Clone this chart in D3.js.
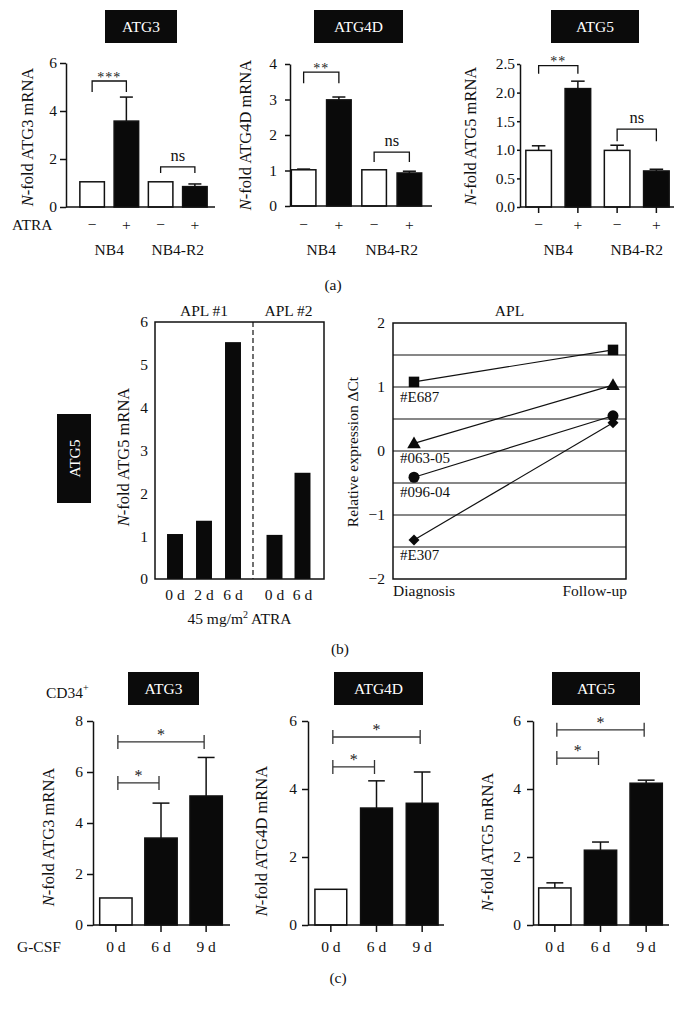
<!DOCTYPE html>
<html><head><meta charset="utf-8">
<script src="https://cdn.jsdelivr.net/npm/d3@7"></script>
<style>
body{margin:0;background:#fff}
svg{display:block;font-family:"Liberation Serif","Times New Roman",serif}
</style></head><body>
<svg id="fig" width="686" height="1012"></svg>
<script>
// ================= DATA =================
// Panel (a): NB4 / NB4-R2 cells, -/+ ATRA
const aCategories = ["NB4 −", "NB4 +", "NB4-R2 −", "NB4-R2 +"];
const aAtraSigns = ["−", "+", "−", "+"];
const aCellLines = ["NB4", "NB4-R2"];
const aFills = ["white", "black", "white", "black"];
const aATG3Values = [1.05, 3.58, 1.05, 0.85];
const aATG3Errors = [0, 1.0, 0, 0.11];
const aATG4DValues = [1.02, 2.99, 1.02, 0.93];
const aATG4DErrors = [0.02, 0.08, 0, 0.05];
const aATG5Values = [0.99, 2.07, 0.99, 0.63];
const aATG5Errors = [0.08, 0.13, 0.09, 0.03];
const aATG3Ticks = [0, 2, 4, 6];
const aATG4DTicks = [0, 1, 2, 3, 4];
const aATG5Ticks = [0, 0.5, 1.0, 1.5, 2.0, 2.5];
const aATG3Sig = [{from: 0, to: 1, top: 5.25, leg: 4.79, label: "***"}, {from: 2, to: 3, top: 1.67, leg: 1.42, label: "ns"}];
const aATG4DSig = [{from: 0, to: 1, top: 3.77, leg: 3.46, label: "**"}, {from: 2, to: 3, top: 1.52, leg: 1.24, label: "ns"}];
const aATG5Sig = [{from: 0, to: 1, top: 2.47, leg: 2.33, label: "**"}, {from: 2, to: 3, top: 1.36, leg: 1.15, label: "ns"}];

// Panel (b) left: APL patients, ATG5 during ATRA therapy
const bAPL1Days = ["0 d", "2 d", "6 d"];
const bAPL1Values = [1.05, 1.36, 5.53];
const bAPL2Days = ["0 d", "6 d"];
const bAPL2Values = [1.03, 2.48];
const bLeftTicks = [0, 1, 2, 3, 4, 5, 6];
// Panel (b) right: relative expression ΔCt
const bTimepoints = ["Diagnosis", "Follow-up"];
const bPatients = ["#E687", "#063-05", "#096-04", "#E307"];
const bPatientSymbols = ["square", "triangle", "circle", "diamond"];
const bDiagnosis = [1.08, 0.12, -0.41, -1.39];
const bFollowUp = [1.58, 1.03, 0.55, 0.44];
const bRightTicks = [-2, -1, 0, 1, 2];
const bRightGrid = [-1.5, -1, -0.5, 0, 0.5, 1, 1.5];

// Panel (c): CD34+ cells, G-CSF
const cDays = ["0 d", "6 d", "9 d"];
const cFills = ["white", "black", "black"];
const cATG3Values = [1.06, 3.41, 5.06];
const cATG3Errors = [0, 1.37, 1.51];
const cATG4DValues = [1.05, 3.44, 3.58];
const cATG4DErrors = [0, 0.80, 0.92];
const cATG5Values = [1.09, 2.20, 4.17];
const cATG5Errors = [0.15, 0.24, 0.09];
const cATG3Ticks = [0, 2, 4, 6, 8];
const cATG4DTicks = [0, 2, 4, 6];
const cATG5Ticks = [0, 2, 4, 6];
const cATG3Sig = [{from: 0, to: 2, y: 7.18, label: "*"}, {from: 0, to: 1, y: 5.57, label: "*"}];
const cATG4DSig = [{from: 0, to: 2, y: 5.53, label: "*"}, {from: 0, to: 1, y: 4.65, label: "*"}];
const cATG5Sig = [{from: 0, to: 2, y: 5.74, label: "*"}, {from: 0, to: 1, y: 4.91, label: "*"}];

// ================= DRAWING =================
const FONT = '"Liberation Serif","Times New Roman",serif';
const INK = "#111";
const svg = d3.select("#fig");

function txt(x, y, s, size, anchor) {
  return svg.append("text").attr("x", x).attr("y", y).attr("font-size", size || 15.5)
    .attr("text-anchor", anchor || "middle").attr("fill", INK).text(s);
}

function titleBox(x, y, w, h, s, vertical) {
  svg.append("rect").attr("x", x).attr("y", y).attr("width", w).attr("height", h).attr("fill", "#0b0b0b");
  const t = svg.append("text").attr("fill", "#fff").attr("font-size", 15.5).attr("text-anchor", "middle");
  if (vertical) t.attr("transform", `translate(${x + w / 2 + 5.5},${y + h / 2}) rotate(-90)`);
  else t.attr("x", x + w / 2).attr("y", y + h / 2 + 5.5);
  t.text(s);
}

function yLabel(x, y, gene, size) {
  const t = svg.append("text").attr("transform", `translate(${x},${y}) rotate(-90)`)
    .attr("text-anchor", "middle").attr("font-size", size || 16.5).attr("fill", INK);
  t.append("tspan").attr("font-style", "italic").text("N");
  t.append("tspan").text(`-fold ${gene} mRNA`);
}

function styleAxis(sel, size) {
  sel.attr("font-family", FONT).attr("font-size", size || 15.5).attr("color", INK);
  sel.selectAll("path,line").attr("stroke-width", 1.5);
}

function barChart(cfg) {
  const g = svg.append("g");
  const x = d3.scaleBand().domain(cfg.categories).range(cfg.band)
    .paddingInner(cfg.pi).paddingOuter(cfg.pi / 2);
  const y = d3.scaleLinear().domain(cfg.domain).range(cfg.yRange);
  const bw = x.bandwidth();
  const cx = i => x(cfg.categories[i]) + bw / 2;

  // error bars (upward only)
  cfg.values.forEach((v, i) => {
    const e = cfg.errors[i];
    if (!e) return;
    g.append("line").attr("x1", cx(i)).attr("x2", cx(i)).attr("y1", y(v)).attr("y2", y(v + e))
      .attr("stroke", INK).attr("stroke-width", 1.5);
    g.append("line").attr("x1", cx(i) - bw * 0.25).attr("x2", cx(i) + bw * 0.25)
      .attr("y1", y(v + e)).attr("y2", y(v + e)).attr("stroke", INK).attr("stroke-width", 1.5);
  });
  // bars
  g.selectAll("rect.bar").data(cfg.values).join("rect").attr("class", "bar")
    .attr("x", (d, i) => x(cfg.categories[i]) + 0.75).attr("width", bw - 1.5)
    .attr("y", d => y(d)).attr("height", d => y(0) - y(d))
    .attr("fill", (d, i) => cfg.fills[i] === "black" ? "#0a0a0a" : "#fff")
    .attr("stroke", INK).attr("stroke-width", 1.5);
  // y axis
  const ya = d3.axisLeft(y).tickValues(cfg.ticks).tickSize(cfg.tickSize).tickPadding(cfg.tickPad)
    .tickSizeOuter(0).tickFormat(cfg.fmt || d3.format("d"));
  const ag = g.append("g").attr("transform", `translate(${cfg.axisX},0)`).call(ya);
  styleAxis(ag);
  // x axis line
  g.append("line").attr("x1", cfg.axisX).attr("x2", cfg.xEnd).attr("y1", y(0)).attr("y2", y(0))
    .attr("stroke", INK).attr("stroke-width", 1.5);
  if (cfg.xTicks) {
    cfg.categories.forEach((c, i) => g.append("line").attr("x1", cx(i)).attr("x2", cx(i))
      .attr("y1", y(0)).attr("y2", y(0) + cfg.xTicks).attr("stroke", INK).attr("stroke-width", 1.5));
  }
  return {x, y, cx};
}

function legBrackets(ch, sig) {
  sig.forEach(s => {
    const x1 = ch.cx(s.from), x2 = ch.cx(s.to);
    svg.append("path").attr("d", `M${x1},${ch.y(s.leg)}V${ch.y(s.top)}H${x2}V${ch.y(s.leg)}`)
      .attr("fill", "none").attr("stroke", INK).attr("stroke-width", 1.3);
    if (s.label === "ns") txt((x1 + x2) / 2, ch.y(s.top) - 6, "ns", 16.5);
    else txt((x1 + x2) / 2, ch.y(s.top) + 0.5, s.label, 14).attr("fill", "#222").attr("letter-spacing", 1);
  });
}

function capBrackets(ch, sig) {
  sig.forEach(s => {
    const x1 = ch.cx(s.from) + 2, x2 = ch.cx(s.to) - 2, yy = ch.y(s.y);
    svg.append("path").attr("d", `M${x1},${yy - 7}V${yy + 7}M${x1},${yy}H${x2}M${x2},${yy - 7}V${yy + 7}`)
      .attr("fill", "none").attr("stroke", "#333").attr("stroke-width", 1.3);
    txt((x1 + x2) / 2, yy - 2, s.label, 16).attr("fill", "#222");
  });
}

// ---------- Panel (a) ----------
titleBox(105, 10, 72, 33, "ATG3");
titleBox(314, 10, 89, 33, "ATG4D");
titleBox(551, 10, 88, 33, "ATG5");

const a1 = barChart({categories: aCategories, values: aATG3Values, errors: aATG3Errors, fills: aFills,
  band: [75, 212], pi: 0.24, domain: [0, 6], yRange: [207, 63], ticks: aATG3Ticks,
  axisX: 66, xEnd: 215, tickSize: 6, tickPad: 3});
const a2 = barChart({categories: aCategories, values: aATG4DValues, errors: aATG4DErrors, fills: aFills,
  band: [286, 427], pi: 0.26, domain: [0, 4], yRange: [206, 64], ticks: aATG4DTicks,
  axisX: 290, xEnd: 432, tickSize: 5, tickPad: 8});
const a3 = barChart({categories: aCategories, values: aATG5Values, errors: aATG5Errors, fills: aFills,
  band: [519, 676], pi: 0.31, domain: [0, 2.5], yRange: [207, 64], ticks: aATG5Ticks,
  fmt: d3.format(".1f"), axisX: 520, xEnd: 674, tickSize: 3, tickPad: 2, xTicks: 6});
legBrackets(a1, aATG3Sig);
legBrackets(a2, aATG4DSig);
legBrackets(a3, aATG5Sig);

yLabel(33, 137, "ATG3");
yLabel(251, 135, "ATG4D");
yLabel(476, 136, "ATG5");

txt(12, 230, "ATRA", 15.5, "start");
[a1, a2, a3].forEach(ch => {
  aAtraSigns.forEach((s, i) => txt(ch.cx(i), 230, s, 15.5));
  aCellLines.forEach((c, k) => txt((ch.cx(2 * k) + ch.cx(2 * k + 1)) / 2, 255, c, 15.5));
});
txt(333, 290, "(a)", 15.5);

// ---------- Panel (b) left ----------
titleBox(57, 414, 34, 89, "ATG5", true);
const bL = {x0: 155, x1: 324, split: 253, top: 322, bottom: 579};
const byL = d3.scaleLinear().domain([0, 6]).range([bL.bottom, bL.top]);
const bx1 = d3.scaleBand().domain(d3.range(bAPL1Days.length)).range([bL.x0, bL.split]).paddingInner(0.45).paddingOuter(0.415);
const bx2 = d3.scaleBand().domain(d3.range(bAPL2Days.length)).range([bL.split, bL.x1]).paddingInner(0.43).paddingOuter(0.483);
[[bx1, bAPL1Values, bAPL1Days], [bx2, bAPL2Values, bAPL2Days]].forEach(([sc, vals, days]) => {
  svg.append("g").selectAll("rect").data(vals).join("rect")
    .attr("x", (d, i) => sc(i)).attr("width", sc.bandwidth())
    .attr("y", d => byL(d)).attr("height", d => byL(0) - byL(d)).attr("fill", "#0a0a0a");
  days.forEach((dd, i) => txt(sc(i) + sc.bandwidth() / 2, 600, dd, 15.5));
});
svg.append("rect").attr("x", bL.x0).attr("y", bL.top).attr("width", bL.x1 - bL.x0).attr("height", bL.bottom - bL.top)
  .attr("fill", "none").attr("stroke", INK).attr("stroke-width", 1.5);
svg.append("line").attr("x1", bL.split).attr("x2", bL.split).attr("y1", bL.top).attr("y2", bL.bottom)
  .attr("stroke", INK).attr("stroke-width", 1.2).attr("stroke-dasharray", "5,3");
const bLAxis = svg.append("g").attr("transform", `translate(${bL.x0},0)`)
  .call(d3.axisLeft(byL).tickValues(bLeftTicks).tickSize(0).tickPadding(7).tickFormat(d3.format("d")));
styleAxis(bLAxis);
bLAxis.select(".domain").remove();
txt((bL.x0 + bL.split) / 2, 316, "APL #1", 15.5);
txt((bL.split + bL.x1) / 2, 316, "APL #2", 15.5);
const lbl45 = svg.append("text").attr("x", (bL.x0 + bL.x1) / 2).attr("y", 624).attr("font-size", 15.5)
  .attr("text-anchor", "middle").attr("fill", INK);
lbl45.append("tspan").text("45 mg/m");
lbl45.append("tspan").attr("font-size", 10).attr("dy", -6).text("2");
lbl45.append("tspan").attr("dy", 6).text(" ATRA");
yLabel(129, 457, "ATG5");

// ---------- Panel (b) right ----------
const bR = {x0: 393, x1: 626, top: 323, bottom: 579};
const byR = d3.scaleLinear().domain([-2, 2]).range([bR.bottom, bR.top]);
const bxR = d3.scalePoint().domain(bTimepoints).range([414, 613]);
svg.append("g").selectAll("line").data(bRightGrid).join("line")
  .attr("x1", bR.x0).attr("x2", bR.x1).attr("y1", d => byR(d)).attr("y2", d => byR(d))
  .attr("stroke", INK).attr("stroke-width", 1.2);
svg.append("rect").attr("x", bR.x0).attr("y", bR.top).attr("width", bR.x1 - bR.x0).attr("height", bR.bottom - bR.top)
  .attr("fill", "none").attr("stroke", INK).attr("stroke-width", 1.5);
const bRAxis = svg.append("g").attr("transform", `translate(${bR.x0},0)`)
  .call(d3.axisLeft(byR).tickValues(bRightTicks).tickSize(0).tickPadding(8).tickFormat(d3.format("d")));
styleAxis(bRAxis);
bRAxis.select(".domain").remove();
const symMap = {square: d3.symbolSquare, triangle: d3.symbolTriangle, circle: d3.symbolCircle, diamond: d3.symbolSquare};
const symSize = {square: 110, triangle: 80, circle: 95, diamond: 60};
bPatients.forEach((p, i) => {
  const pts = [[bxR(bTimepoints[0]), byR(bDiagnosis[i])], [bxR(bTimepoints[1]), byR(bFollowUp[i])]];
  svg.append("line").attr("x1", pts[0][0]).attr("y1", pts[0][1]).attr("x2", pts[1][0]).attr("y2", pts[1][1])
    .attr("stroke", INK).attr("stroke-width", 1.2);
  const shp = bPatientSymbols[i];
  pts.forEach(([px, py]) => {
    svg.append("path").attr("d", d3.symbol(symMap[shp], symSize[shp])())
      .attr("transform", `translate(${px},${py + (shp === "triangle" ? 1 : 0)})${shp === "diamond" ? " rotate(45)" : ""}`)
      .attr("fill", "#0a0a0a");
  });
  txt(400, byR(bDiagnosis[i]) + 20, p, 15, "start");
});
txt(bR.x0, 596, bTimepoints[0], 15.5, "start");
txt(bR.x1 + 1, 596, bTimepoints[1], 15.5, "end");
txt((bR.x0 + bR.x1) / 2, 316, "APL", 15.5);
svg.append("text").attr("transform", "translate(358,452) rotate(-90)").attr("text-anchor", "middle")
  .attr("font-size", 15.5).attr("fill", INK).text("Relative expression ΔCt");
txt(340, 654, "(b)", 15.5);

// ---------- Panel (c) ----------
titleBox(128, 672, 71, 33, "ATG3");
titleBox(334, 672, 89, 33, "ATG4D");
titleBox(552, 672, 88, 33, "ATG5");
const cd = svg.append("text").attr("x", 46).attr("y", 698).attr("font-size", 15.5).attr("fill", INK);
cd.append("tspan").text("CD34");
cd.append("tspan").attr("font-size", 10).attr("dy", -7).text("+");

const c1 = barChart({categories: cDays, values: cATG3Values, errors: cATG3Errors, fills: cFills,
  band: [93.3, 228.7], pi: 0.25, domain: [0, 8], yRange: [925, 721], ticks: cATG3Ticks,
  axisX: 93, xEnd: 230, tickSize: 6, tickPad: 4, xTicks: 7});
const c2 = barChart({categories: cDays, values: cATG4DValues, errors: cATG4DErrors, fills: cFills,
  band: [308, 445], pi: 0.27, domain: [0, 6], yRange: [925, 721], ticks: cATG4DTicks,
  axisX: 308, xEnd: 444, tickSize: 6, tickPad: 5, xTicks: 7});
const c3 = barChart({categories: cDays, values: cATG5Values, errors: cATG5Errors, fills: cFills,
  band: [532, 669], pi: 0.26, domain: [0, 6], yRange: [925, 721], ticks: cATG5Ticks,
  axisX: 533, xEnd: 669, tickSize: 6, tickPad: 6, xTicks: 7});
capBrackets(c1, cATG3Sig);
capBrackets(c2, cATG4DSig);
capBrackets(c3, cATG5Sig);
[c1, c2, c3].forEach(ch => cDays.forEach((d, i) => txt(ch.cx(i), 952, d, 15.5)));
txt(17, 952, "G-CSF", 15.5, "start");
yLabel(54, 837, "ATG3");
yLabel(267, 841, "ATG4D");
yLabel(493, 842, "ATG5");
txt(338, 983, "(c)", 15.5);
</script>
</body></html>
